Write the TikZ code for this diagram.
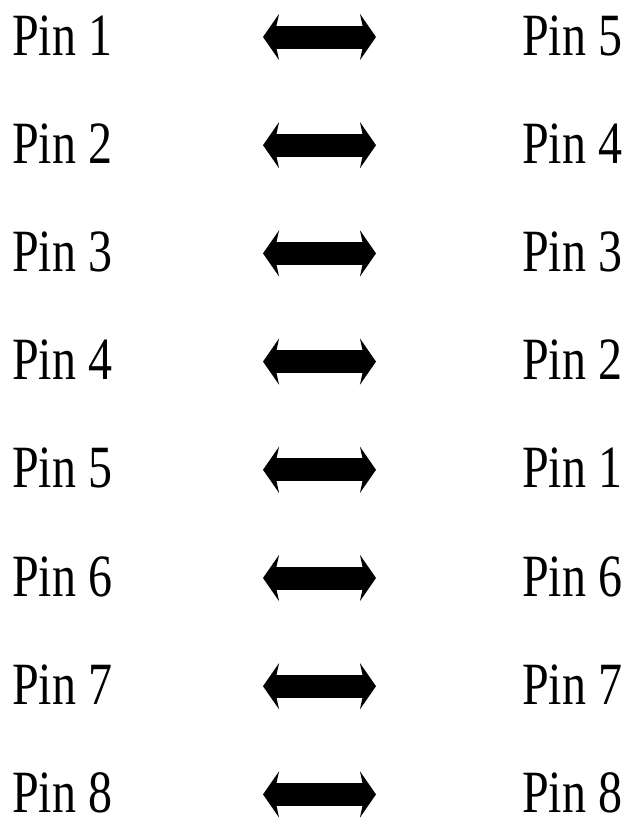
\documentclass[tikz,border=0pt]{standalone}
\usepackage{fontspec}
\setmainfont{Liberation Serif}
\usetikzlibrary{arrows.meta}
\begin{document}
\begin{tikzpicture}[x=1pt,y=1pt,
  pinlabel/.style={inner sep=0pt, anchor=base west, text depth=0pt, font=\fontsize{60}{60}\selectfont},
  link/.style={line width=23pt,
    {Stealth[length=16pt,width=46pt,inset=5pt]}-{Stealth[length=16pt,width=46pt,inset=5pt]}}]
  \useasboundingbox (0,0) rectangle (635,-819);
  \foreach \i/\l/\r in {1/1/5,2/2/4,3/3/3,4/4/2,5/5/1,6/6/6,7/7/7,8/8/8}{
    \pgfmathsetmacro{\yb}{-(55+(\i-1)*108.2)}
    \node[pinlabel] (left\i) at (12,\yb) {\scalebox{0.8}[1]{Pin \l}};
    \node[pinlabel] (right\i) at (522,\yb) {\scalebox{0.8}[1]{Pin \r}};
    \coordinate (a\i) at (263,\yb+18);
    \coordinate (b\i) at (376,\yb+18);
    \draw[link] (a\i) -- (b\i);
  }
\end{tikzpicture}
\end{document}
